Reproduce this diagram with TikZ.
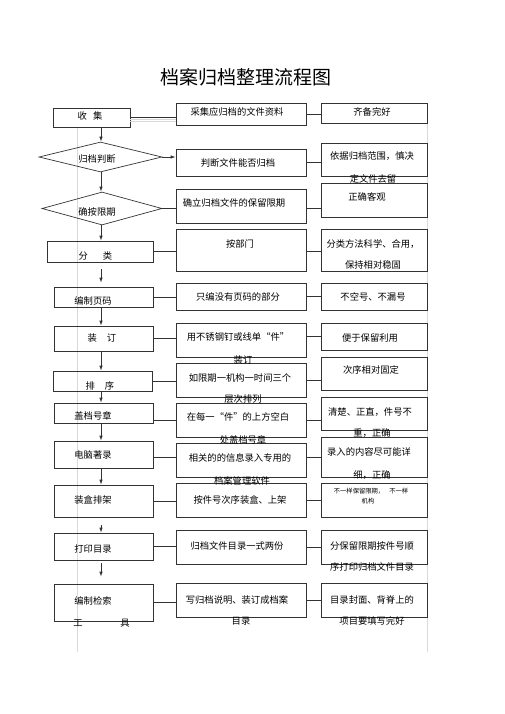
\documentclass[tikz,border=0pt]{standalone}
\usepackage{fontspec}
\setmainfont{Noto Sans CJK SC}
\usetikzlibrary{shapes.geometric,arrows.meta}

\begin{document}
\begin{tikzpicture}[x=1pt,y=-1pt,
	box/.style={draw=black!80,line width=0.7pt,inner sep=0pt},
	lbox/.style={box,minimum width=99pt},
	mbox/.style={box,minimum width=130pt},
	rbox/.style={box,minimum width=106pt},
	decide/.style={box,diamond},
	txt/.style={inner sep=0pt,font=\fontsize{9.3pt}{11pt}\selectfont},
	small/.style={inner sep=0pt,font=\fontsize{6.3pt}{8pt}\selectfont},
	link/.style={draw=black!80,line width=0.7pt},
	flow/.style={link,-{Latex[length=5pt,width=3.5pt]}},
	grid/.style={draw=black!15,line width=0.5pt}]
\useasboundingbox (0,0) rectangle (505,714);
\coordinate (axis) at (101,0);

% title
\node[inner sep=0pt,font=\fontsize{19pt}{22pt}\selectfont] (title) at (245.5,77.5) {档案归档整理流程图};

% faint table lines
\draw[grid] (77,128) -- (77,652);
\draw[grid] (427,103) -- (427,652);

% left column
\node[box,minimum width=77pt,minimum height=19pt] (shou) at (91.5,117.5) {};
\node[decide,minimum width=123pt,minimum height=30pt] (panduan) at (100.5,157) {};
\node[decide,minimum width=120pt,minimum height=33pt] (qixian) at (102,208.5) {};
\node[box,minimum width=106pt,minimum height=21pt] (fenlei) at (100,251.5) {};
\node[lbox,minimum height=20pt] (yema) at (103.5,297) {};
\node[lbox,minimum height=25pt] (zhuangding) at (103.5,338.5) {};
\node[lbox,minimum height=20pt] (paixu) at (102.5,381) {};
\node[lbox,minimum height=20pt] (gaizhang) at (103.5,413) {};
\node[lbox,minimum height=27pt] (zhulu) at (103.5,454.5) {};
\node[lbox,minimum height=32pt] (shangjia) at (103.5,501) {};
\node[lbox,minimum height=27pt] (dayin) at (103.5,546.5) {};
\node[lbox,minimum height=37pt] (jiansuo) at (103.5,602.5) {};

% middle column
\node[mbox,minimum height=22pt] (m1) at (241,114) {};
\node[mbox,minimum height=27pt] (m2) at (241,162.5) {};
\node[mbox,minimum height=34pt] (m3) at (241,206) {};
\node[mbox,minimum height=42pt] (m4) at (241,250) {};
\node[mbox,minimum height=27pt] (m5) at (241,296.5) {};
\node[mbox,minimum height=34pt] (m6) at (241,340) {};
\node[mbox,minimum height=34pt] (m7) at (241,380) {};
\node[mbox,minimum height=34pt] (m8) at (241,420) {};
\node[mbox,minimum height=34pt] (m9) at (241,460) {};
\node[mbox,minimum height=34pt] (m10) at (241,500) {};
\node[mbox,minimum height=34pt] (m11) at (241,547) {};
\node[mbox,minimum height=34pt] (m12) at (241,600) {};

% right column
\node[rbox,minimum height=20pt] (r1) at (374,113) {};
\node[rbox,minimum height=33pt] (r2) at (374,159.5) {};
\node[rbox,minimum height=34pt] (r3) at (374,200) {};
\node[rbox,minimum height=42pt] (r4) at (374,250) {};
\node[rbox,minimum height=27pt] (r5) at (374,296.5) {};
\node[rbox,minimum height=27pt] (r6) at (374,336.5) {};
\node[rbox,minimum height=33pt] (r7) at (374,373.5) {};
\node[rbox,minimum height=33pt] (r8) at (374,413.5) {};
\node[rbox,minimum height=40pt] (r9) at (374,457) {};
\node[rbox,minimum height=34pt] (r10) at (374,500) {};
\node[rbox,minimum height=34pt] (r11) at (374,547) {};
\node[rbox,minimum height=34pt] (r12) at (374,600) {};

% texts, left
\node[txt] (t-shou) at (90,116) {收\hspace{6pt}集};
\node[txt] (t-panduan) at (97,159) {归档判断};
\node[txt] (t-qixian) at (97,212) {确按限期};
\node[txt] (t-fenlei) at (95.5,256) {分\hspace{15pt}类};
\node[txt] (t-yema) at (93,301) {编制页码};
\node[txt] (t-zhuangding) at (102,338) {装\hspace{10pt}订};
\node[txt] (t-paixu) at (100,386) {排\hspace{10pt}序};
\node[txt] (t-gaizhang) at (93,416) {盖档号章};
\node[txt] (t-zhulu) at (93,455) {电脑著录};
\node[txt] (t-shangjia) at (93,500) {装盒排架};
\node[txt] (t-dayin) at (93,549) {打印目录};
\node[txt] (t-jiansuo) at (93,601) {编制检索};
\node[txt] (t-gong) at (78,623) {工};
\node[txt] (t-ju) at (125,623) {具};

% texts, middle
\node[txt] (t-m1) at (237,112) {采集应归档的文件资料};
\node[txt] (t-m2) at (238,163) {判断文件能否归档};
\node[txt] (t-m3) at (234,203) {确立归档文件的保留限期};
\node[txt] (t-m4) at (240,244) {按部门};
\node[txt] (t-m5) at (238,297) {只编没有页码的部分};
\node[txt] (t-m6) at (238,337) {用不锈钢钉或线单“件”};
\node[txt] (t-m6b) at (243,360) {装订};
\node[txt] (t-m7) at (240,378) {如限期一机构一时间三个};
\node[txt] (t-m7b) at (243,399) {层次排列};
\node[txt] (t-m8) at (238,417) {在每一“件”的上方空白};
\node[txt] (t-m8b) at (243,440) {处盖档号章};
\node[txt] (t-m9) at (240,458) {相关的的信息录入专用的};
\node[txt] (t-m9b) at (242,481) {档案管理软件};
\node[txt] (t-m10) at (240,500) {按件号次序装盒、上架};
\node[txt] (t-m11) at (237,546) {归档文件目录一式两份};
\node[txt] (t-m12) at (237,600) {写归档说明、装订成档案};
\node[txt] (t-m12b) at (241,621) {目录};

% texts, right
\node[txt] (t-r1) at (372,112) {齐备完好};
\node[txt] (t-r2) at (372,156) {依据归档范围，慎决};
\node[txt] (t-r2b) at (373,179) {定文件去留};
\node[txt] (t-r3) at (367,197) {正确客观};
\node[txt] (t-r4) at (373,244) {分类方法科学、合用，};
\node[txt] (t-r4b) at (373,265) {保持相对稳固};
\node[txt] (t-r5) at (373,297) {不空号、不漏号};
\node[txt] (t-r6) at (370,338) {便于保留利用};
\node[txt] (t-r7) at (371,370) {次序相对固定};
\node[txt] (t-r8) at (370,412) {清楚、正直，件号不};
\node[txt] (t-r8b) at (372,433) {重，正确};
\node[txt] (t-r9) at (369,452) {录入的内容尽可能详};
\node[txt] (t-r9b) at (372,475) {细，正确};
\node[small] (t-r10) at (371,491) {不一样保留限期，\hspace{5pt}不一样};
\node[small] (t-r10b) at (368,501) {机构};
\node[txt] (t-r11) at (372,546) {分保留限期按件号顺};
\node[txt] (t-r11b) at (372,567) {序打印归档文件目录};
\node[txt] (t-r12) at (372,600) {目录封面、背脊上的};
\node[txt] (t-r12b) at (372,621) {项目要填写完好};

% main flow
\foreach \a/\b in {shou/panduan,panduan/qixian,qixian/fenlei,yema/zhuangding,
	zhuangding/paixu,paixu/gaizhang,gaizhang/zhulu,zhulu/shangjia}
	\draw[flow] (\a.south -| axis) -- (\b.north -| axis);
\draw[flow,shorten <=7pt,shorten >=4pt] (fenlei.south -| axis) -- (yema.north -| axis);
\draw[flow,shorten <=8pt] (shangjia.south -| axis) -- (dayin.north -| axis);
\draw[flow,shorten <=3pt,shorten >=7pt] (dayin.south -| axis) -- (jiansuo.north -| axis);

% side links
\draw[link] (shou.east) -- (shou.east -| m1.west);
\draw[grid] ([yshift=-2pt]shou.east) -- ([yshift=-2pt]shou.east -| m1.west);
\draw[grid] ([yshift=-4pt]shou.east) -- ([yshift=-4pt]shou.east -| m1.west);
\draw[link] (m1.east) -- (m1.east -| r1.west);
\draw[flow] (panduan.east) -- (panduan.east -| m2.west);
\draw[link] (m2.east) -- (m2.east -| r2.west);
\draw[link] (qixian.east) -- (qixian.east -| m3.west);
\draw[link] (qixian.east -| m3.east) -- (qixian.east -| r3.west);
\draw[link] (fenlei.east) -- (fenlei.east -| m4.west);
\draw[link] (fenlei.east -| m4.east) -- (fenlei.east -| r4.west);
\draw[link] (yema.east) -- (yema.east -| m5.west);
\draw[link] (m5.east) -- (m5.east -| r5.west);
\draw[link] (zhuangding.east) -- (zhuangding.east -| m6.west);
\draw[link] (r6.west -| m6.east) -- (r6.west);
\draw[link] (paixu.east) -- (paixu.east -| m7.west);
\draw[link] (m7.east) -- (m7.east -| r7.west);
\draw[link] (m8.west -| gaizhang.east) -- (m8.west);
\draw[link] (m8.east) -- (m8.east -| r8.west);
\draw[link] (r9.west -| zhulu.east) -- (r9.west -| m9.west);
\draw[link] (r9.west -| m9.east) -- (r9.west);
\draw[link] (shangjia.east) -- (shangjia.east -| m10.west);
\draw[link] (m10.east) -- (m10.east -| r10.west);
\draw[link] (dayin.east) -- (dayin.east -| m11.west);
\draw[link] (m11.east) -- (m11.east -| r11.west);
\draw[link] (jiansuo.east) -- (jiansuo.east -| m12.west);
\draw[link] (m12.east) -- (m12.east -| r12.west);
\end{tikzpicture}
\end{document}
